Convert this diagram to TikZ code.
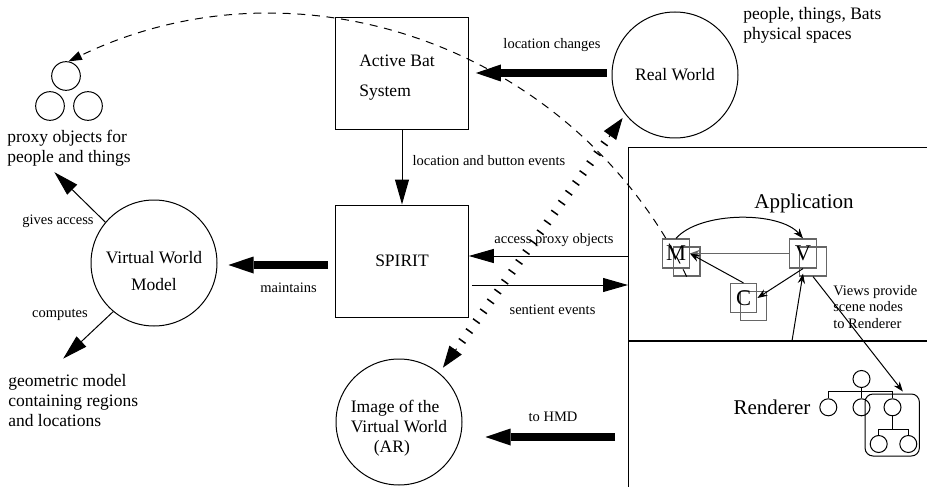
\documentclass[tikz,border=0pt]{standalone}
\usepackage{fontspec}
\setmainfont{Liberation Serif}
\usetikzlibrary{arrows.meta,calc}
\newcommand\fsz[2]{\fontsize{#1}{#2}\selectfont}
\begin{document}
\begin{tikzpicture}[x=0.6pt,y=-0.6pt,
  base/.style={line width=0.6pt},
  txt/.style={font=\fsz{10.5}{12}, inner sep=0pt},
  lbl/.style={font=\fsz{8.7}{9.9}, inner sep=0pt},
  big/.style={font=\fsz{12.6}{15}, inner sep=0pt},
  letter/.style={font=\fsz{13.5}{15}},
  world/.style={draw, circle, minimum size=75.6pt, inner sep=0pt, line width=0.6pt, font=\fsz{10.5}{12}},
  block/.style={draw, rectangle, minimum width=79.6pt, minimum height=67.2pt, inner sep=0pt, line width=0.6pt, font=\fsz{10.5}{12}},
  proxy/.style={draw, circle, minimum size=17.2pt, inner sep=0pt, line width=0.6pt},
  tnode/.style={draw, circle, minimum size=10.2pt, inner sep=0pt, line width=0.6pt},
  sq/.style={draw=black!60, rectangle, minimum width=16pt, minimum height=17.4pt, inner sep=0pt, line width=0.7pt},
  region/.style={draw, rectangle, anchor=north west, minimum width=260pt, inner sep=0pt, line width=0.6pt},
  thinarr/.style={line width=0.6pt, -{Triangle[length=15pt,width=8.4pt]}},
  fatarr/.style={line width=4.8pt, -{Triangle[length=15pt,width=10.2pt,line width=0pt]}},
  smallarr/.style={line width=0.6pt, -{Stealth[length=6pt,width=4.4pt]}},
  dasharc/.style={line width=0.6pt, dash pattern=on 4.8pt off 4pt, -{Triangle[length=8pt,width=5.4pt]}},
  hatch/.style={line width=5pt, dash pattern=on 0.9pt off 6.4pt},
  hatchtip/.style={line width=0.6pt, -{Triangle[length=13pt,width=9pt]}}
]
\useasboundingbox (0,0) rectangle (927,487);

% regions on the right
\node[region, minimum height=115.8pt] (app) at (628,147) {};
\node[region, minimum height=140pt] (ren) at (628,340) {};
\draw[line width=1.3pt] (app.south west) -- (app.south east);
\node[big] (apptxt) at (804,203) {Application};
\node[big] (rentxt) at (772,407) {Renderer};

% main blocks
\node[block] (abs) at (402,74) {};
\node[txt, align=left, font=\fsz{10.5}{18}] (abstxt) at (397,78) {Active Bat\\System};
\node[block] (spirit) at (402,261) {SPIRIT};
\node[world] (rw) at (675,75) {Real World};
\node[world] (vwm) at (154,263) {};
\node[txt, align=center, font=\fsz{10.5}{16.2}] (vwmtxt) at (154,271) {Virtual World\\Model};
\node[world] (ar) at (399,422) {};
\node[txt, align=left] (artxt) at (399,428) {Image of the\\Virtual World\\\hspace*{13.8pt}(AR)};

% proxy objects
\node[proxy] (p1) at (66,76) {};
\node[proxy] (p2) at (50,106) {};
\node[proxy] (p3) at (88,106) {};
\node[txt, anchor=west, align=left] (ptxt) at (7,148) {proxy objects for\\people and things};
\node[txt, anchor=west, align=left] (pts) at (743,25) {people, things, Bats\\physical spaces};
\node[txt, anchor=west, align=left] (geo) at (8,401) {geometric model\\containing regions\\and locations};

% MVC squares
\node[sq] (m2) at (686.7,261.5) {};
\node[sq, letter] (m1) at (676,253.5) {M};
\node[sq] (v2) at (813,261.5) {};
\node[sq, letter] (v1) at (803,253.5) {V};
\node[sq] (c2) at (753.5,306) {};
\node[sq, letter] (c1) at (743.5,298) {C};

% renderer tree
\node[tnode] (r0) at (861.5,379) {};
\node[tnode] (ra) at (828.3,407.3) {};
\node[tnode] (rb) at (861.5,407.3) {};
\node[tnode] (rc) at (892.5,407.3) {};
\node[tnode] (rd) at (878.7,444) {};
\node[tnode] (re) at (908.3,444) {};
\node[draw, rounded corners=4.8pt, minimum width=32.6pt, minimum height=37.2pt, inner sep=0pt, line width=0.6pt] (grp) at (892.2,425) {};
\coordinate (bar1) at (861.5,391.7);
\coordinate (bar2) at (892.5,429.3);
\draw[base] (r0.south) -- (rb.north);
\draw[base] (ra.north) |- (bar1) -| (rc.north);
\draw[base] (rc.south) -- (bar2);
\draw[base] (rd.north) |- (bar2) -| (re.north);

% labels
\node[lbl] (l1) at (552,45) {location changes};
\node[lbl] (l2) at (489,161) {location and button events};
\node[lbl] (l3) at (554,240) {access proxy objects};
\node[lbl] (l4) at (552.5,310) {sentient events};
\node[lbl] (l5) at (288.5,288) {maintains};
\node[lbl] (l6) at (58,221.5) {gives access};
\node[lbl] (l7) at (60,315) {computes};
\node[lbl] (l8) at (553,416.7) {to HMD};
\node[lbl, align=left, anchor=west] (l9) at (833,307) {Views provide\\scene nodes\\to Renderer};

% connectors
\draw[fatarr] ($(rw.west)+(-5,-2)$) -- ($(abs.east)+(7,-1)$);
\draw[thinarr] (abs.south) -- (spirit.north);
\draw[fatarr] ($(spirit.west)+(-7,4)$) -- ($(vwm.east)+(11,2)$);
\coordinate (acc) at ($(spirit.east)+(0,-5)$);
\coordinate (sen) at ($(spirit.east)+(3,24)$);
\draw[thinarr] (acc -| app.west) -- (acc);
\draw[thinarr] (sen) -- (sen -| app.west);
\draw[thinarr] (vwm.140) -- ($(vwm.140)+(-51,-50)$);
\draw[thinarr] (vwm.230) -- ($(vwm.230)+(-50,47)$);
\coordinate (hmd) at ($(ar.east)+(23,15)$);
\draw[fatarr] ($(hmd -| ren.west)+(-13,0)$) -- (hmd);

% dashed arc from M to proxy objects
\draw[dasharc] (m2.south) .. controls (575,47) and (299,-50) .. (p1.80);

% hatched double arrow
\coordinate (hA) at ($(ar.51)+(4,-5)$);
\coordinate (hB) at ($(rw.219)+(-3,3)$);
\draw[hatch] ($(hA)!12pt!(hB)$) -- ($(hB)!12pt!(hA)$);
\draw[hatchtip] ($(hA)!14pt!(hB)$) -- (hA);
\draw[hatchtip] ($(hB)!14pt!(hA)$) -- (hB);

% MVC arrows
\draw[smallarr] (m1.north) .. controls (700,211) and (780,211) .. (v1.north);
\draw[smallarr, draw=black!60] (v1.west) -- (m1.east);
\draw[smallarr] (c1.north) -- (m1.east);
\draw[smallarr] (v1.south) -- (c1.east);
\draw[smallarr] ($(app.south west)+(164,0)$) -- ([yshift=-3pt]v1.south);
\draw[smallarr] (v2.south) -- ($(grp.north east)+(-17,-2)$);
\end{tikzpicture}
\end{document}
